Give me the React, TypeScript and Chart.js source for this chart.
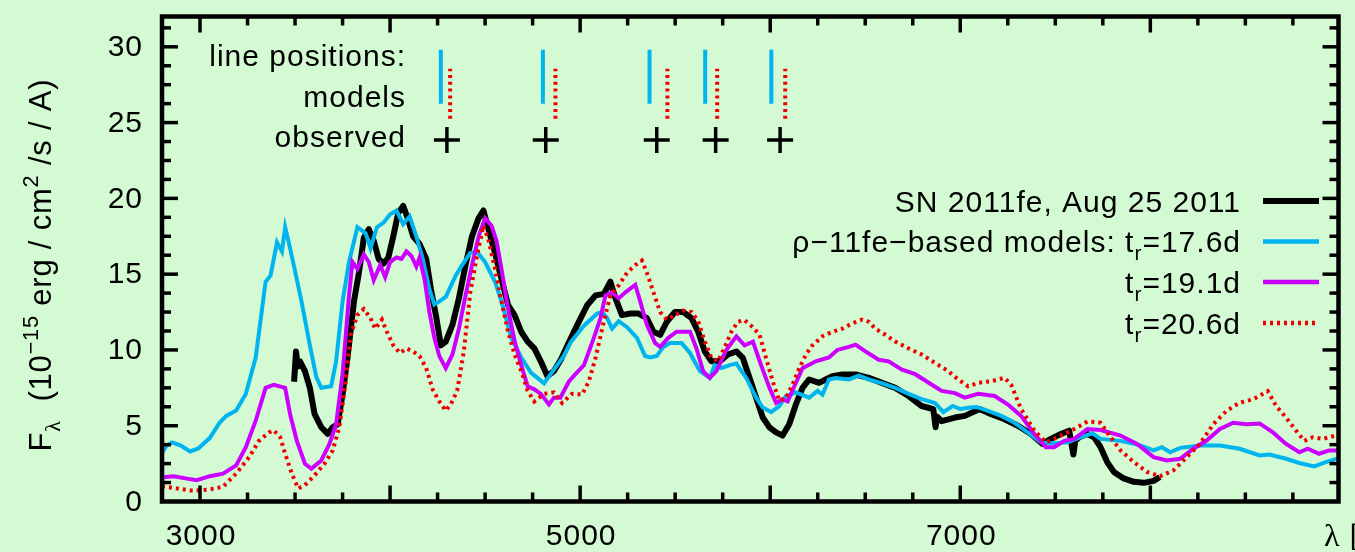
import React, { useEffect, useRef } from "react";
import { Chart, registerables } from "chart.js";

Chart.register(...registerables);

// ---------- data ----------
const xTickLabels = [3000, 5000, 7000];
const yTickLabels = [0, 5, 10, 15, 20, 25, 30];

const obsWave = [3495, 3505, 3515, 3526, 3552, 3578, 3603, 3638, 3672, 3698, 3724, 3750, 3776, 3810, 3836, 3862, 3888, 3914, 3940, 3966, 3991, 4017, 4043, 4069, 4095, 4121, 4155, 4190, 4215, 4241, 4267, 4293, 4328, 4362, 4397, 4431, 4466, 4491, 4517, 4552, 4586, 4621, 4655, 4690, 4724, 4759, 4793, 4828, 4862, 4900, 4933, 4985, 5037, 5081, 5125, 5159, 5186, 5220, 5264, 5307, 5351, 5386, 5421, 5456, 5499, 5543, 5586, 5621, 5656, 5691, 5734, 5778, 5822, 5856, 5891, 5926, 5961, 5996, 6031, 6065, 6100, 6135, 6170, 6205, 6257, 6292, 6327, 6379, 6449, 6519, 6588, 6658, 6728, 6797, 6858, 6870, 6878, 6902, 6972, 7024, 7102, 7163, 7233, 7303, 7372, 7433, 7477, 7529, 7573, 7595, 7605, 7625, 7669, 7704, 7738, 7773, 7808, 7860, 7913, 7965, 8017, 8050];
const obsFlux = [7.9, 9.9, 8.9, 9.25, 8.6, 7.5, 5.76, 4.9, 4.46, 4.9, 5.1, 7.07, 9.47, 13.2, 15.1, 17.4, 17.97, 17.2, 16.0, 15.7, 16.1, 17.5, 19.05, 19.5, 18.6, 17.5, 17.0, 16.0, 14.0, 12.3, 10.3, 10.55, 11.65, 13.4, 15.6, 17.5, 18.7, 19.2, 18.0, 16.4, 14.7, 12.95, 12.3, 11.2, 10.55, 10.1, 9.25, 8.27, 8.6, 9.4, 10.3, 11.65, 12.95, 13.6, 13.7, 14.5, 13.4, 12.3, 12.4, 12.4, 12.1, 11.2, 11.0, 11.86, 12.5, 12.5, 12.1, 11.2, 9.9, 9.25, 9.25, 9.7, 9.9, 9.47, 8.16, 6.85, 5.54, 4.89, 4.56, 4.35, 5.1, 6.4, 7.5, 8.05, 7.83, 8.05, 8.27, 8.38, 8.38, 8.16, 7.83, 7.5, 6.96, 6.3, 6.1, 4.9, 5.6, 5.3, 5.54, 5.65, 6.1, 5.76, 5.43, 5.0, 4.45, 3.8, 4.13, 4.45, 4.67, 3.1, 4.0, 4.24, 4.45, 4.24, 3.58, 2.6, 1.95, 1.52, 1.3, 1.23, 1.36, 1.62];

const m176Wave = [2800, 2825, 2853, 2897, 2948, 2991, 3052, 3103, 3138, 3190, 3241, 3293, 3345, 3371, 3405, 3431, 3448, 3474, 3500, 3534, 3578, 3612, 3638, 3690, 3716, 3750, 3784, 3828, 3871, 3897, 3931, 3966, 4000, 4034, 4069, 4103, 4138, 4172, 4207, 4233, 4259, 4293, 4345, 4379, 4422, 4457, 4500, 4552, 4586, 4638, 4690, 4741, 4810, 4845, 4914, 4950, 5020, 5090, 5116, 5142, 5168, 5203, 5247, 5299, 5342, 5369, 5403, 5438, 5473, 5534, 5578, 5630, 5682, 5708, 5743, 5787, 5822, 5874, 5926, 5961, 6005, 6048, 6083, 6135, 6205, 6249, 6275, 6309, 6344, 6414, 6466, 6519, 6588, 6658, 6728, 6797, 6867, 6911, 6960, 7000, 7050, 7085, 7146, 7216, 7285, 7355, 7425, 7494, 7564, 7634, 7695, 7738, 7843, 7947, 8017, 8061, 8104, 8157, 8261, 8366, 8470, 8575, 8627, 8714, 8784, 8862, 8923, 9000];
const m176Flux = [3.2, 3.7, 3.9, 3.7, 3.3, 3.5, 4.2, 5.2, 5.65, 6.0, 7.1, 9.5, 14.5, 14.9, 17.1, 16.5, 18.1, 16.7, 15.2, 13.2, 10.3, 8.2, 7.5, 7.6, 9.25, 13.2, 15.8, 18.1, 17.7, 16.7, 18.1, 18.4, 18.95, 19.2, 18.3, 18.8, 17.5, 16.0, 14.0, 13.0, 13.2, 13.5, 14.9, 15.6, 16.4, 16.5, 15.8, 14.5, 13.2, 10.8, 9.5, 8.5, 7.8, 8.4, 9.6, 10.5, 11.6, 12.4, 12.5, 12.1, 11.4, 11.9, 11.5, 10.8, 9.6, 9.5, 9.6, 10.2, 10.45, 10.45, 9.8, 8.6, 8.15, 9.0, 8.8, 9.0, 9.1, 8.15, 6.85, 6.2, 5.9, 6.3, 6.95, 7.2, 6.85, 7.3, 7.05, 8.05, 8.15, 8.05, 8.3, 8.05, 7.8, 7.5, 7.1, 6.75, 6.5, 5.9, 6.3, 6.1, 6.2, 6.24, 5.98, 5.65, 5.2, 4.56, 3.9, 3.85, 3.9, 4.24, 4.5, 4.13, 4.0, 3.7, 3.37, 3.58, 3.25, 3.54, 3.7, 3.7, 3.48, 3.04, 3.1, 2.82, 2.54, 2.32, 2.6, 2.9];

const m191Wave = [2800, 2819, 2862, 2931, 2983, 3052, 3121, 3190, 3241, 3293, 3345, 3388, 3448, 3474, 3509, 3552, 3586, 3638, 3681, 3716, 3750, 3784, 3802, 3828, 3862, 3888, 3914, 3948, 3974, 4000, 4034, 4060, 4086, 4112, 4138, 4155, 4181, 4207, 4233, 4259, 4293, 4328, 4362, 4397, 4431, 4466, 4500, 4534, 4560, 4586, 4621, 4655, 4690, 4724, 4759, 4793, 4836, 4862, 4896, 4940, 4968, 5020, 5072, 5107, 5133, 5168, 5203, 5238, 5290, 5316, 5351, 5395, 5421, 5464, 5508, 5578, 5612, 5647, 5682, 5717, 5769, 5822, 5865, 5909, 5952, 5996, 6031, 6065, 6092, 6127, 6170, 6240, 6309, 6353, 6414, 6449, 6501, 6571, 6623, 6693, 6763, 6832, 6902, 6972, 7024, 7094, 7181, 7251, 7320, 7390, 7451, 7494, 7547, 7599, 7669, 7738, 7843, 7930, 8017, 8087, 8157, 8226, 8296, 8366, 8436, 8505, 8575, 8645, 8714, 8784, 8828, 8888, 8941, 9000];
const m191Flux = [1.55, 1.62, 1.67, 1.51, 1.4, 1.67, 1.84, 2.38, 3.58, 5.33, 7.5, 7.7, 7.5, 5.76, 4.02, 2.49, 2.17, 2.71, 3.8, 5.1, 8.4, 13.6, 15.8, 15.35, 16.3, 15.8, 14.6, 15.6, 14.8, 15.8, 16.1, 16.0, 16.5, 16.2, 15.5, 16.1, 14.7, 12.5, 10.8, 9.6, 8.8, 9.7, 11.4, 13.6, 15.6, 17.5, 18.7, 18.2, 17.2, 15.35, 12.7, 10.6, 9.0, 7.6, 7.4, 7.1, 6.4, 6.85, 6.85, 7.9, 8.3, 9.0, 10.8, 12.1, 13.6, 13.8, 13.4, 13.8, 14.3, 13.2, 11.65, 10.45, 10.2, 10.8, 11.2, 11.2, 10.1, 8.6, 8.16, 8.6, 10.0, 10.9, 10.3, 10.55, 9.0, 7.5, 6.5, 6.75, 6.6, 7.6, 8.8, 9.25, 9.5, 10.0, 10.2, 10.35, 9.9, 9.35, 9.25, 8.7, 8.4, 7.85, 7.3, 7.15, 6.85, 7.1, 6.96, 6.4, 5.65, 4.45, 3.58, 3.58, 4.0, 4.13, 4.78, 4.72, 4.35, 3.8, 2.93, 2.71, 2.82, 3.48, 4.02, 4.78, 5.2, 5.1, 5.15, 4.56, 3.8, 3.25, 3.48, 3.15, 3.37, 3.37];

const m206Wave = [2800, 2819, 2879, 2966, 3052, 3121, 3190, 3259, 3310, 3362, 3388, 3422, 3448, 3483, 3517, 3552, 3603, 3655, 3698, 3733, 3767, 3793, 3828, 3862, 3897, 3922, 3957, 3983, 4017, 4052, 4086, 4121, 4155, 4190, 4224, 4259, 4293, 4319, 4353, 4388, 4422, 4457, 4491, 4517, 4552, 4586, 4621, 4655, 4690, 4724, 4759, 4810, 4862, 4905, 4957, 5011, 5046, 5081, 5125, 5159, 5203, 5247, 5290, 5325, 5351, 5386, 5421, 5456, 5499, 5543, 5586, 5621, 5656, 5691, 5726, 5761, 5796, 5830, 5865, 5909, 5944, 5978, 6013, 6048, 6083, 6118, 6153, 6188, 6222, 6275, 6327, 6379, 6431, 6484, 6519, 6553, 6606, 6658, 6728, 6797, 6867, 6937, 6989, 7041, 7094, 7163, 7233, 7268, 7320, 7390, 7451, 7512, 7599, 7669, 7738, 7791, 7843, 7913, 7982, 8052, 8122, 8192, 8261, 8331, 8401, 8470, 8540, 8618, 8662, 8714, 8767, 8810, 8854, 8906, 8976, 9000];
const m206Flux = [1.0, 0.97, 0.86, 0.7, 0.8, 0.97, 1.84, 2.93, 4.0, 4.56, 4.7, 4.24, 3.15, 1.84, 0.86, 1.08, 1.73, 2.49, 3.37, 4.89, 7.94, 11.0, 12.3, 12.7, 12.1, 11.4, 12.0, 11.2, 10.3, 9.8, 10.1, 9.9, 9.6, 8.8, 7.4, 6.6, 6.0, 6.4, 7.3, 9.9, 13.8, 16.2, 18.2, 17.3, 15.35, 13.2, 11.2, 9.7, 8.6, 7.3, 6.6, 7.1, 7.2, 6.5, 7.1, 7.07, 7.94, 9.47, 11.9, 13.6, 14.26, 15.1, 15.6, 15.9, 15.1, 13.8, 12.5, 12.0, 12.3, 12.6, 12.5, 11.9, 10.55, 9.47, 9.25, 10.2, 11.2, 11.86, 11.97, 11.5, 11.0, 9.47, 7.94, 6.64, 6.86, 7.72, 8.8, 9.7, 10.3, 10.9, 11.2, 11.4, 11.75, 12.0, 11.86, 11.4, 11.0, 10.55, 10.1, 9.7, 9.14, 8.6, 8.05, 7.6, 7.83, 7.94, 8.16, 7.7, 6.1, 4.67, 3.9, 4.24, 4.78, 5.28, 5.2, 4.24, 3.37, 2.6, 1.95, 1.67, 2.06, 2.93, 3.8, 5.1, 5.98, 6.52, 6.74, 7.28, 6.3, 5.54, 4.67, 4.0, 4.24, 4.13, 4.35, 4.4];

// line positions (wavelengths, Å)
const linesModelBlue = [4267, 4804, 5365, 5658, 6006];
const linesModelRed = [4316, 4870, 5459, 5721, 6079];
const linesObserved = [4299, 4819, 5403, 5713, 6052];

const lineKeyLabels = ["line positions:", "models", "observed"];
const legendLabels = [
  "SN 2011fe, Aug 25 2011",
  "ρ−11fe−based models: t_{r}=17.6d",
  "t_{r}=19.1d",
  "t_{r}=20.6d",
];
const yTitle = "F_{λ}  (10^{−15} erg / cm^{2} /s / A)";
const xTitle = "λ [Å]";

// ---------- styling ----------
const BG = "rgb(211,250,211)";
const BLACK = "#000000";
const BLUE = "#00b4f0";
const MAGENTA = "#cc00ff";
const RED = "#f00000";
const SANS = '"Liberation Sans", Arial, Helvetica, sans-serif';
const SERIF = '"Liberation Serif", "DejaVu Serif", serif';
const FS = 30;

const BLUE_SEG = [26.25, 29.8];
const RED_SEG = [25.25, 28.55];
const CROSS_Y = 23.85;

type Seg = { t: string; m?: "sub" | "sup"; serif?: boolean };

function parseRich(s: string): Seg[] {
  const out: Seg[] = [];
  const re = /([_^])\{([^}]*)\}/g;
  let last = 0;
  let mt: RegExpExecArray | null;
  while ((mt = re.exec(s))) {
    if (mt.index > last) out.push({ t: s.slice(last, mt.index) });
    out.push({ t: mt[2], m: mt[1] === "_" ? "sub" : "sup" });
    last = re.lastIndex;
  }
  if (last < s.length) out.push({ t: s.slice(last) });
  return out.map((g) => ({ ...g, serif: g.t.includes("λ") }));
}

function setFont(ctx: CanvasRenderingContext2D, size: number, serif?: boolean) {
  ctx.font = `${size}px ${serif ? SERIF : SANS}`;
}

function drawRich(
  ctx: CanvasRenderingContext2D,
  segs: Seg[],
  x: number,
  y: number,
  size: number,
  align: "left" | "right" | "center"
) {
  let w = 0;
  for (const s of segs) {
    setFont(ctx, s.m ? size * 0.7 : size, s.serif);
    w += ctx.measureText(s.t).width;
  }
  let cx = align === "left" ? x : align === "right" ? x - w : x - w / 2;
  ctx.textAlign = "left";
  ctx.textBaseline = "alphabetic";
  for (const s of segs) {
    const sz = s.m ? size * 0.7 : size;
    setFont(ctx, sz, s.serif);
    const dy = s.m === "sub" ? size * 0.28 : s.m === "sup" ? -size * 0.42 : 0;
    ctx.fillText(s.t, cx, y + dy);
    cx += ctx.measureText(s.t).width;
  }
}

const toXY = (w: number[], f: number[]) => w.map((x, i) => ({ x, y: f[i] }));
const segments = (ws: number[], y0: number, y1: number) =>
  ws.flatMap((x) => [
    { x, y: y0 },
    { x, y: y1 },
    { x, y: null as any },
  ]);

const decorPlugin = {
  id: "decor",
  beforeDraw(chart: any) {
    const ctx = chart.ctx as CanvasRenderingContext2D;
    ctx.save();
    ctx.fillStyle = BG;
    ctx.fillRect(0, 0, chart.width, chart.height);
    ctx.restore();
  },
  afterDraw(chart: any) {
    const ctx = chart.ctx as CanvasRenderingContext2D;
    const ca = chart.chartArea;
    const xs = chart.scales.x;
    const ys = chart.scales.y;
    ctx.save();
    (ctx as any).letterSpacing = "1px";
    ctx.strokeStyle = BLACK;
    ctx.fillStyle = BLACK;

    // frame
    ctx.lineWidth = 4.5;
    ctx.strokeRect(ca.left, ca.top, ca.right - ca.left, ca.bottom - ca.top);

    // ticks
    ctx.lineWidth = 3.5;
    ctx.lineCap = "butt";
    const ln = (a: number, b: number, c: number, d: number) => {
      ctx.beginPath();
      ctx.moveTo(a, b);
      ctx.lineTo(c, d);
      ctx.stroke();
    };
    for (let v = 2750; v <= 9000; v += 250) {
      if (v <= xs.min || v >= xs.max) continue;
      const p = xs.getPixelForValue(v);
      const len = v % 1000 === 0 ? 16 : 9;
      ln(p, ca.bottom, p, ca.bottom - len);
      ln(p, ca.top, p, ca.top + len);
    }
    for (let v = 1.25; v < 32; v += 1.25) {
      const p = ys.getPixelForValue(v);
      const len = Math.abs(v % 5) < 1e-6 ? 16 : 9;
      ln(ca.left, p, ca.left + len, p);
      ln(ca.right, p, ca.right - len, p);
    }

    // tick labels
    setFont(ctx, FS);
    ctx.textAlign = "right";
    ctx.textBaseline = "middle";
    for (const v of yTickLabels) {
      ctx.fillText(String(v), ca.left - 19, ys.getPixelForValue(v) + 1);
    }
    ctx.textAlign = "center";
    ctx.textBaseline = "alphabetic";
    for (const v of xTickLabels) {
      ctx.fillText(String(v), xs.getPixelForValue(v) + 1, 545);
    }

    // x title (cut off at right edge, as in the original)
    drawRich(ctx, parseRich(xTitle), 1324, 546, 32, "left");

    // y title
    ctx.save();
    ctx.translate(51, 265);
    ctx.rotate(-Math.PI / 2);
    (ctx as any).letterSpacing = "0.8px";
    drawRich(ctx, parseRich(yTitle), 0, 0, 31, "center");
    ctx.restore();

    // line-position key
    ctx.textAlign = "right";
    ctx.textBaseline = "alphabetic";
    setFont(ctx, FS);
    const keyY = [66, 107, 147];
    lineKeyLabels.forEach((t, i) => {
      ctx.fillText(t, 406, keyY[i]);
    });

    // legend
    const rowY = [201, 241.5, 282, 323];
    const styles = [
      { c: BLACK, w: 6, d: [] as number[] },
      { c: BLUE, w: 4.5, d: [] as number[] },
      { c: MAGENTA, w: 4.5, d: [] as number[] },
      { c: RED, w: 4.5, d: [3, 4] },
    ];
    legendLabels.forEach((t, i) => {
      ctx.fillStyle = BLACK;
      drawRich(ctx, parseRich(t), 1241, rowY[i] + 10.5, FS, "right");
      ctx.strokeStyle = styles[i].c;
      ctx.lineWidth = styles[i].w;
      ctx.setLineDash(styles[i].d);
      ln(1263, rowY[i], 1319, rowY[i]);
    });
    ctx.setLineDash([]);
    ctx.restore();
  },
};

export default function App() {
  const ref = useRef<HTMLCanvasElement | null>(null);
  useEffect(() => {
    if (!ref.current) return;
    const chart = new Chart(ref.current, {
      type: "line",
      data: {
        datasets: [
          {
            label: "SN 2011fe, Aug 25 2011",
            data: toXY(obsWave, obsFlux),
            borderColor: BLACK,
            borderWidth: 6,
            borderJoinStyle: "round",
            order: 4,
          },
          {
            label: "t_r=17.6d",
            data: toXY(m176Wave, m176Flux),
            borderColor: BLUE,
            borderWidth: 4,
            order: 3,
          },
          {
            label: "t_r=19.1d",
            data: toXY(m191Wave, m191Flux),
            borderColor: MAGENTA,
            borderWidth: 4,
            order: 2,
          },
          {
            label: "t_r=20.6d",
            data: toXY(m206Wave, m206Flux),
            borderColor: RED,
            borderWidth: 4,
            borderDash: [3, 4],
            borderCapStyle: "butt",
            order: 1,
          },
          {
            label: "model lines (blue)",
            data: segments(linesModelBlue, BLUE_SEG[0], BLUE_SEG[1]),
            borderColor: BLUE,
            borderWidth: 4,
            spanGaps: false,
            order: 0,
          },
          {
            label: "model lines (red)",
            data: segments(linesModelRed, RED_SEG[0], RED_SEG[1]),
            borderColor: RED,
            borderWidth: 4,
            borderDash: [3, 3.8],
            spanGaps: false,
            order: 0,
          },
          {
            label: "observed lines",
            data: linesObserved.map((x) => ({ x, y: CROSS_Y })),
            showLine: false,
            pointStyle: "cross",
            pointRadius: 13,
            pointBorderWidth: 3.5,
            pointBorderColor: BLACK,
            borderColor: BLACK,
            order: 0,
          } as any,
        ],
      },
      options: {
        responsive: false,
        animation: false,
        events: [],
        layout: { padding: { left: 162, right: 8, top: 11.5, bottom: 50.5 } },
        elements: { point: { radius: 0 }, line: { tension: 0 } },
        plugins: { legend: { display: false }, tooltip: { enabled: false } },
        scales: {
          x: { type: "linear", min: 2800, max: 8990, display: false },
          y: { type: "linear", min: 0, max: 32, display: false },
        },
      },
      plugins: [decorPlugin],
    });
    return () => chart.destroy();
  }, []);
  return (
    <div
      style={{
        position: "fixed",
        left: 0,
        top: 0,
        width: 1355,
        height: 552,
        background: BG,
      }}
    >
      <canvas ref={ref} width={1355} height={552} style={{ display: "block" }} />
    </div>
  );
}
